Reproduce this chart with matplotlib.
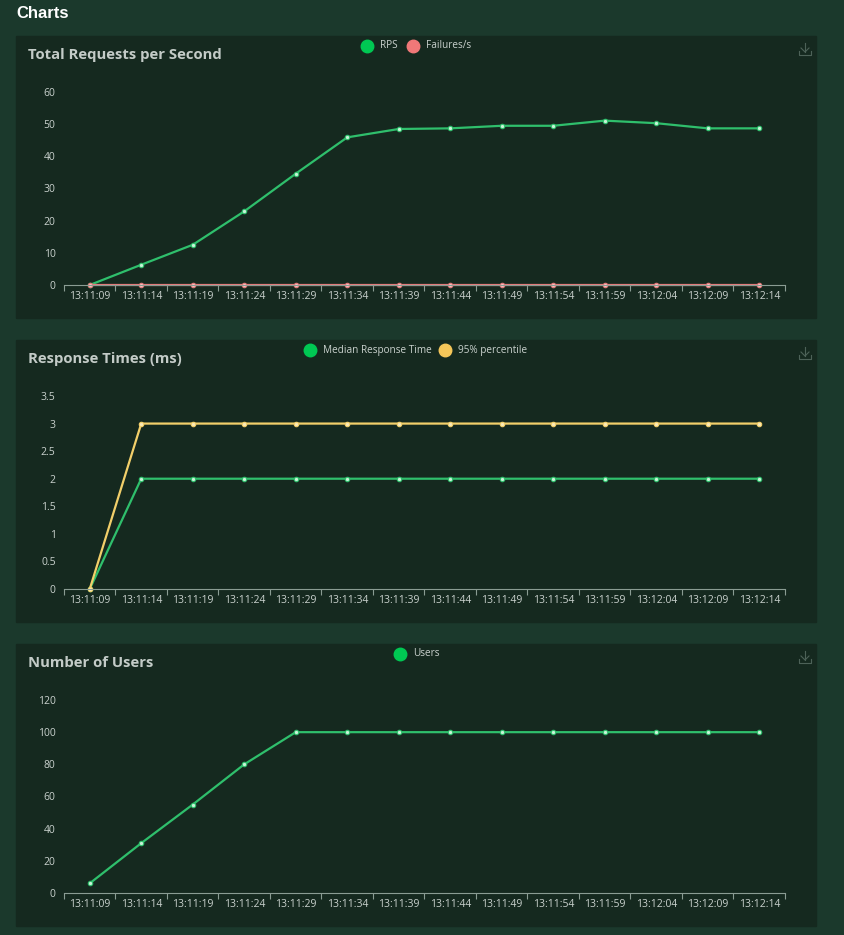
import matplotlib.pyplot as plt
from matplotlib.patches import Rectangle
from matplotlib.lines import Line2D

times = ["13:11:09", "13:11:14", "13:11:19", "13:11:24", "13:11:29", "13:11:34", "13:11:39",
         "13:11:44", "13:11:49", "13:11:54", "13:11:59", "13:12:04", "13:12:09", "13:12:14"]
rps = [0, 6.3, 12.5, 22.9, 34.6, 45.9, 48.5, 48.7, 49.5, 49.5, 51.1, 50.3, 48.7, 48.7]
failures = [0, 0, 0, 0, 0, 0, 0, 0, 0, 0, 0, 0, 0, 0]
median_rt = [0, 2, 2, 2, 2, 2, 2, 2, 2, 2, 2, 2, 2, 2]
p95_rt = [0, 3, 3, 3, 3, 3, 3, 3, 3, 3, 3, 3, 3, 3]
users = [6, 31, 55, 80, 100, 100, 100, 100, 100, 100, 100, 100, 100, 100]

W, H = 845, 935
page_bg = "#1b392c"
panel_bg = "#15291f"
txt = "#c9d1cd"
green = "#2fbf6c"
green_dot = "#00c853"
red = "#e57a7a"
yellow = "#f2cf6a"


def fx(x):
    return x / W


def fy(y):
    return 1 - y / H


fig = plt.figure(figsize=(W / 100, H / 100), dpi=100)
fig.patch.set_facecolor(page_bg)
fig.text(fx(16), fy(13), "Charts", color="white", fontsize=12, fontweight="bold",
         family="Liberation Sans", va="center", ha="left")


def panel(top, title, series, ylim, yticks, ylabels, legend):
    fig.patches.append(Rectangle((fx(16), fy(top + 282)), fx(800), 282 / H,
                                 transform=fig.transFigure, color=panel_bg, zorder=-5))
    fig.text(fx(28), fy(top + 19), title, color="#c3cbc7", fontsize=10.7, fontweight="bold",
             family="Open Sans", va="center", ha="left")
    # leyenda
    for x, label, col in legend:
        fig.add_artist(Line2D([fx(x)], [fy(top + 10)], marker="o", markersize=9, color=col,
                              transform=fig.transFigure))
        fig.text(fx(x + 13), fy(top + 10), label, color=txt, fontsize=7.2,
                 family="Open Sans", va="center", ha="left")
    # icono de descarga
    ic = "#4d6258"
    cx, cy = 805, top + 13
    fig.add_artist(Line2D([fx(cx), fx(cx)], [fy(cy - 6), fy(cy + 3)], color=ic, lw=0.8,
                          transform=fig.transFigure))
    fig.add_artist(Line2D([fx(cx - 4), fx(cx), fx(cx + 4)], [fy(cy - 1), fy(cy + 3), fy(cy - 1)],
                          color=ic, lw=0.8, transform=fig.transFigure))
    fig.add_artist(Line2D([fx(cx - 6), fx(cx - 6), fx(cx + 6), fx(cx + 6)],
                          [fy(cy + 2), fy(cy + 6), fy(cy + 6), fy(cy + 2)],
                          color=ic, lw=0.8, transform=fig.transFigure))

    ax = fig.add_axes([fx(64), fy(top + 249), fx(721), 193 / H])
    ax.set_facecolor("none")
    x = range(len(times))
    for vals, col, face in series:
        ax.plot(x, vals, color=col, lw=1.6, marker="o", markersize=3.2,
                markerfacecolor=face, markeredgecolor=col, markeredgewidth=0.8, clip_on=False)
    ax.set_xlim(-0.5, len(times) - 0.5)
    ax.set_ylim(*ylim)
    ax.set_yticks(yticks)
    ax.set_yticklabels(ylabels)
    ax.set_xticks(list(x))
    ax.set_xticklabels(times)
    ax.set_xticks([i - 0.5 for i in range(len(times) + 1)], minor=True)
    for s in ["top", "right", "left"]:
        ax.spines[s].set_visible(False)
    ax.spines["bottom"].set_color("#8a9c93")
    ax.spines["bottom"].set_linewidth(0.8)
    ax.tick_params(axis="x", which="major", length=0, pad=4, labelsize=7.5, labelcolor=txt)
    ax.tick_params(axis="x", which="minor", length=4, width=0.8, color="#8a9c93")
    ax.tick_params(axis="y", length=0, pad=6, labelsize=7.5, labelcolor=txt)
    for lab in ax.get_xticklabels() + ax.get_yticklabels():
        lab.set_family("Open Sans")
    return ax


panel(36, "Total Requests per Second",
      [(rps, green, "#c8f5d8"), (failures, red, "#f7c4c4")],
      (0, 60), [0, 10, 20, 30, 40, 50, 60], ["0", "10", "20", "30", "40", "50", "60"],
      [(367, "RPS", green_dot), (413, "Failures/s", "#f07878")])

panel(340, "Response Times (ms)",
      [(median_rt, green, "#c8f5d8"), (p95_rt, yellow, "#fbeab8")],
      (0, 3.5), [0, 0.5, 1, 1.5, 2, 2.5, 3, 3.5], ["0", "0.5", "1", "1.5", "2", "2.5", "3", "3.5"],
      [(310, "Median Response Time", green_dot), (445, "95% percentile", "#f5c659")])

panel(644, "Number of Users",
      [(users, green, "#c8f5d8")],
      (0, 120), [0, 20, 40, 60, 80, 100, 120], ["0", "20", "40", "60", "80", "100", "120"],
      [(400, "Users", green_dot)])

fig.savefig("out.png", dpi=100, facecolor=page_bg)
